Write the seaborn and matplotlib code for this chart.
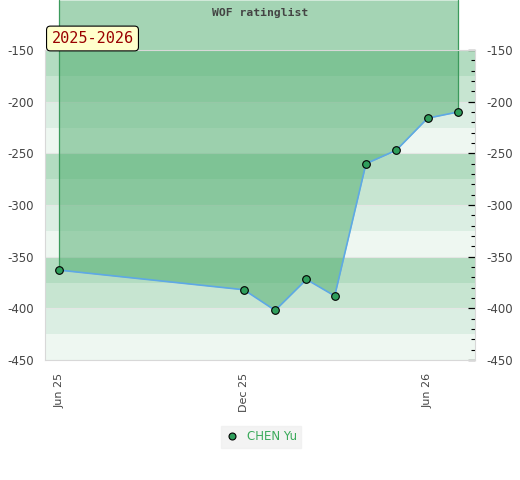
import matplotlib
matplotlib.use("Agg")
import matplotlib.pyplot as plt
import matplotlib.dates as mdates
from matplotlib.lines import Line2D
import seaborn as sns
import pandas as pd

# ---- data ----
dates = ["2025-06-01", "2025-12-01", "2026-01-01", "2026-02-01", "2026-03-01",
         "2026-04-01", "2026-05-01", "2026-06-01", "2026-07-01"]
ratings = [-363, -382, -402, -372, -388, -260, -247, -216, -210]
player = "CHEN Yu"
season_label = "2025-2026"
title = "WOF ratinglist"
xtick_dates = ["2025-06-01", "2025-12-01", "2026-06-01"]
xtick_labels = ["Jun 25", "Dec 25", "Jun 26"]
yticks = [-150, -200, -250, -300, -350, -400, -450]

df = pd.DataFrame({"date": pd.to_datetime(dates), "rating": ratings, "player": player})

sns.set_style("white")
W, H = 520, 480
fig = plt.figure(figsize=(W / 100, H / 100), dpi=100)
ax = fig.add_axes([45 / W, 1 - 360 / H, 430 / W, 310 / H])

ymin, ymax = -450, -150
xmin, xmax = pd.Timestamp("2025-05-18"), pd.Timestamp("2026-07-18")
ax.set_xlim(xmin, xmax)
ax.set_ylim(ymin, ymax)

# background bands
band_cols = ["#b3dcc1", "#c7e5d1", "#dbeee3", "#eef7f1"]
for i, top in enumerate(range(ymax, ymin, -25)):
    ax.axhspan(top - 25, top, color=band_cols[i % 4], lw=0, zorder=0)
for y in yticks:
    ax.axhline(y, color="#e4e6e4", lw=0.8, zorder=0.5)

# season fill extending above the axes to the top of the figure
top_val = ymax + (50 / 310) * (ymax - ymin)
ax.fill_between(df["date"], df["rating"], top_val, color=(75 / 255, 171 / 255, 107 / 255),
                alpha=0.5, lw=0, clip_on=False, zorder=1)
for d, v in [(df["date"].iloc[0], df["rating"].iloc[0]), (df["date"].iloc[-1], df["rating"].iloc[-1])]:
    ax.plot([d, d], [v, top_val], color="#3c9a5c", lw=0.9, clip_on=False, zorder=1.5)

sns.lineplot(data=df, x="date", y="rating", ax=ax, color="#5ea8e6", lw=1.2,
             marker="o", markersize=5.5, markerfacecolor="#2f9e5c",
             markeredgecolor="black", markeredgewidth=0.8, legend=False, zorder=3)

# axes styling
for s in ax.spines.values():
    s.set_color("#d8d8d8")
    s.set_linewidth(0.8)
ax.set_xlabel("")
ax.set_ylabel("")
ax.set_xticks(pd.to_datetime(xtick_dates))
ax.set_xticklabels(xtick_labels, rotation=90, fontsize=8, color="#444444")
ax.tick_params(axis="x", length=0, pad=9)
ax.set_yticks(yticks)
ax.set_yticklabels([str(v) for v in yticks], fontsize=8.5, color="#444444")
ax.tick_params(axis="y", which="both", left=False, right=True, labelleft=True,
               labelright=True, direction="in", length=5, width=0.9, color="black", pad=8)
ax.set_yticks(range(ymin, ymax + 1, 10), minor=True)
ax.tick_params(axis="y", which="minor", direction="in", length=3, width=0.8, right=True, left=False)
ax.grid(False)

# title and season label
fig.text(0.5, 1 - 13 / H, title, ha="center", va="center", fontsize=8.2,
         family="DejaVu Sans Mono", weight="bold", color="#444444")
fig.text(92.5 / W, 1 - 38.5 / H, season_label, ha="center", va="center", fontsize=11,
         family="DejaVu Sans Mono", color="#990000",
         bbox=dict(boxstyle="round,pad=0.32,rounding_size=0.25", fc="#ffffcc", ec="black", lw=0.8))

# legend
handle = Line2D([], [], ls="none", marker="o", markersize=5, markerfacecolor="#2f9e5c",
                markeredgecolor="black", markeredgewidth=0.8)
leg = fig.legend([handle], [player], loc="center", bbox_to_anchor=(261 / W, 1 - 437 / H),
                 frameon=True, fontsize=8.5, handletextpad=0.6, handlelength=1.2,
                 borderpad=0.4, fancybox=False)
leg.get_frame().set_facecolor("#f0f0f0")
leg.get_frame().set_edgecolor("#f0f0f0")
for t in leg.get_texts():
    t.set_color("#3aaa5a")

fig.savefig("out.png", dpi=100)
